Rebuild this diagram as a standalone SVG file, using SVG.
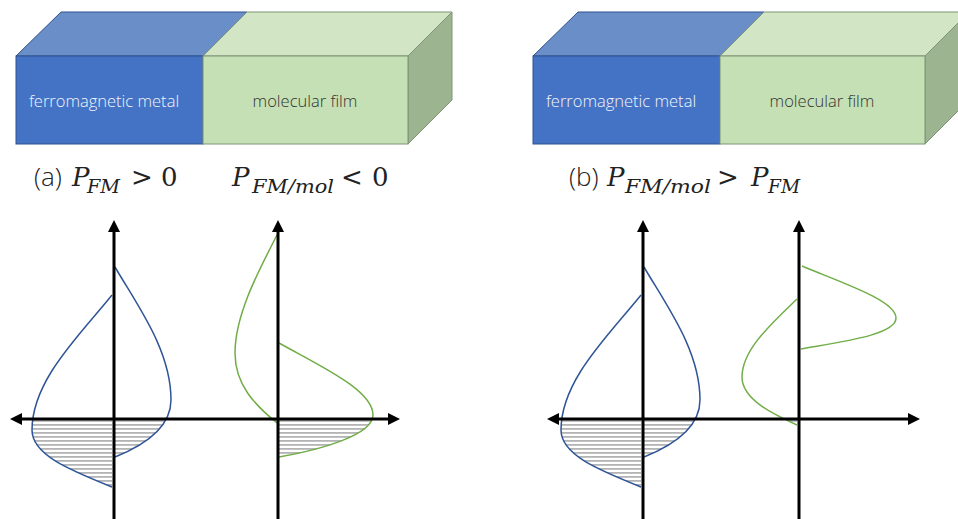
<svg xmlns="http://www.w3.org/2000/svg" width="958" height="519" viewBox="0 0 958 519">
<defs>
<style>
.bf{fill:#4472c4;stroke:#2f528f;stroke-width:1}
.bt{fill:#6a8ec8;stroke:#2f528f;stroke-width:1}
.gf{fill:#c5e0b4;stroke:#7f9477;stroke-width:1}
.gt{fill:#d2e6c6;stroke:#7f9477;stroke-width:1}
.gs{fill:#9cb590;stroke:#7f9477;stroke-width:1}
.tw{font-family:"Open Sans","Liberation Sans",sans-serif;font-weight:300;font-size:16.5px;fill:#f2f5fb;text-anchor:middle}
.td{font-family:"Open Sans","Liberation Sans",sans-serif;font-weight:300;font-size:16.5px;fill:#333;text-anchor:middle}
.lbl{font-family:"Open Sans","Liberation Sans",sans-serif;font-weight:300;font-size:26px;fill:#222}
.mi{font-family:"DejaVu Serif","Liberation Serif",serif;font-style:italic;font-size:26px;fill:#222}
.ms{font-family:"DejaVu Serif","Liberation Serif",serif;font-style:italic;font-size:18px;fill:#222}
.mr{font-family:"DejaVu Serif","Liberation Serif",serif;font-size:26px;fill:#222}
.ax{stroke:#000;stroke-width:3;fill:none}
.cb{stroke:#2f5597;stroke-width:1.5;fill:none}
.cg{stroke:#70ad47;stroke-width:1.5;fill:none}
.hat{fill:url(#hatch);stroke:none}
</style>
<pattern id="hatch" patternUnits="userSpaceOnUse" width="8" height="4">
<rect x="0" y="0" width="8" height="1.8" fill="#b4b4b4"/>
</pattern>
<marker id="arr" markerUnits="userSpaceOnUse" markerWidth="14" markerHeight="12" refX="1" refY="6" orient="auto-start-reverse">
<path d="M0,0 L12,6 L0,12 z" fill="#000"/>
</marker>
<clipPath id="below"><rect x="0" y="419" width="958" height="100"/></clipPath>
</defs>

<g id="block-a">
<polygon class="bt" points="16,56 61,12 247,12 203,56"/>
<polygon class="gt" points="203,56 247,12 452,12 408,56"/>
<polygon class="gs" points="408,56 452,12 452,100 408,144"/>
<rect class="bf" x="16" y="56" width="187" height="88"/>
<rect class="gf" x="203" y="56" width="205" height="88"/>
<text class="tw" x="104" y="107">ferromagnetic metal</text>
<text class="td" x="305" y="107">molecular film</text>
</g>

<g id="block-b">
<polygon class="bt" points="533,56 578,12 764,12 720,56"/>
<polygon class="gt" points="720,56 764,12 969,12 925,56"/>
<polygon class="gs" points="925,56 969,12 969,100 925,144"/>
<rect class="bf" x="533" y="56" width="187" height="88"/>
<rect class="gf" x="720" y="56" width="205" height="88"/>
<text class="tw" x="621" y="107">ferromagnetic metal</text>
<text class="td" x="822" y="107">molecular film</text>
</g>

<g id="label-a">
<text class="lbl" x="34" y="186">(a)</text>
<text class="mi" x="72" y="186">P</text>
<text class="ms" x="87" y="193" textLength="33" lengthAdjust="spacingAndGlyphs">FM</text>
<text class="mr" x="131" y="186">&gt;</text>
<text class="mr" x="161" y="186">0</text>
<text class="mi" x="232" y="186">P</text>
<text class="ms" x="252" y="193" textLength="82" lengthAdjust="spacingAndGlyphs">FM/mol</text>
<text class="mr" x="341" y="186">&lt;</text>
<text class="mr" x="372" y="186">0</text>
</g>

<g id="label-b">
<text class="lbl" x="569" y="186">(b)</text>
<text class="mi" x="607" y="186">P</text>
<text class="ms" x="625" y="193" textLength="86" lengthAdjust="spacingAndGlyphs">FM/mol</text>
<text class="mr" x="717" y="186">&gt;</text>
<text class="mi" x="751" y="186">P</text>
<text class="ms" x="768" y="193" textLength="32" lengthAdjust="spacingAndGlyphs">FM</text>
</g>

<g id="plot-a-fm">
<g clip-path="url(#below)">
<path class="hat" d="M115,267 C137,305 171,350 171,400 C171,425 150,443 115,457 Z"/>
<path class="hat" d="M112,295 C80,335 32,380 32,430 C32,455 70,470 112,487 Z"/>
</g>
<path class="cb" d="M115,267 C137,305 171,350 171,400 C171,425 150,443 115,457"/>
<path class="cb" d="M112,295 C80,335 32,380 32,430 C32,455 70,470 112,487"/>
</g>

<g id="plot-a-mol">
<g clip-path="url(#below)">
<path class="hat" d="M279,343 C320,366 373,390 373,415 C373,435 320,450 279,457 Z"/>
<path class="hat" d="M277,235 C258,272 235,315 235,353 C235,385 255,405 277,423 Z"/>
</g>
<path class="cg" d="M277,235 C258,272 235,315 235,353 C235,385 255,405 277,423"/>
<path class="cg" d="M279,343 C320,366 373,390 373,415 C373,435 320,450 279,457"/>
</g>

<g id="plot-b-fm">
<g clip-path="url(#below)">
<path class="hat" d="M644,267 C666,305 700,350 700,400 C700,425 679,443 644,457 Z"/>
<path class="hat" d="M641,295 C609,335 561,380 561,430 C561,455 599,470 641,487 Z"/>
</g>
<path class="cb" d="M644,267 C666,305 700,350 700,400 C700,425 679,443 644,457"/>
<path class="cb" d="M641,295 C609,335 561,380 561,430 C561,455 599,470 641,487"/>
</g>

<g id="plot-b-mol">
<g clip-path="url(#below)">
<path class="hat" d="M797,299 C770,325 742,350 742,377 C742,400 775,415 797,425 Z"/>
</g>
<path class="cg" d="M802,266 C837,281 896,300 896,318 C896,335 840,342 801,349"/>
<path class="cg" d="M797,299 C770,325 742,350 742,377 C742,400 775,415 797,425"/>
</g>

<g id="connectors">
<line class="ax" x1="21" y1="419" x2="389" y2="419" marker-start="url(#arr)" marker-end="url(#arr)"/>
<line class="ax" x1="114" y1="519" x2="114" y2="231" marker-end="url(#arr)"/>
<line class="ax" x1="278" y1="519" x2="278" y2="231" marker-end="url(#arr)"/>
<line class="ax" x1="558" y1="419" x2="909" y2="419" marker-start="url(#arr)" marker-end="url(#arr)"/>
<line class="ax" x1="643" y1="519" x2="643" y2="231" marker-end="url(#arr)"/>
<line class="ax" x1="799" y1="519" x2="799" y2="231" marker-end="url(#arr)"/>
</g>
</svg>
